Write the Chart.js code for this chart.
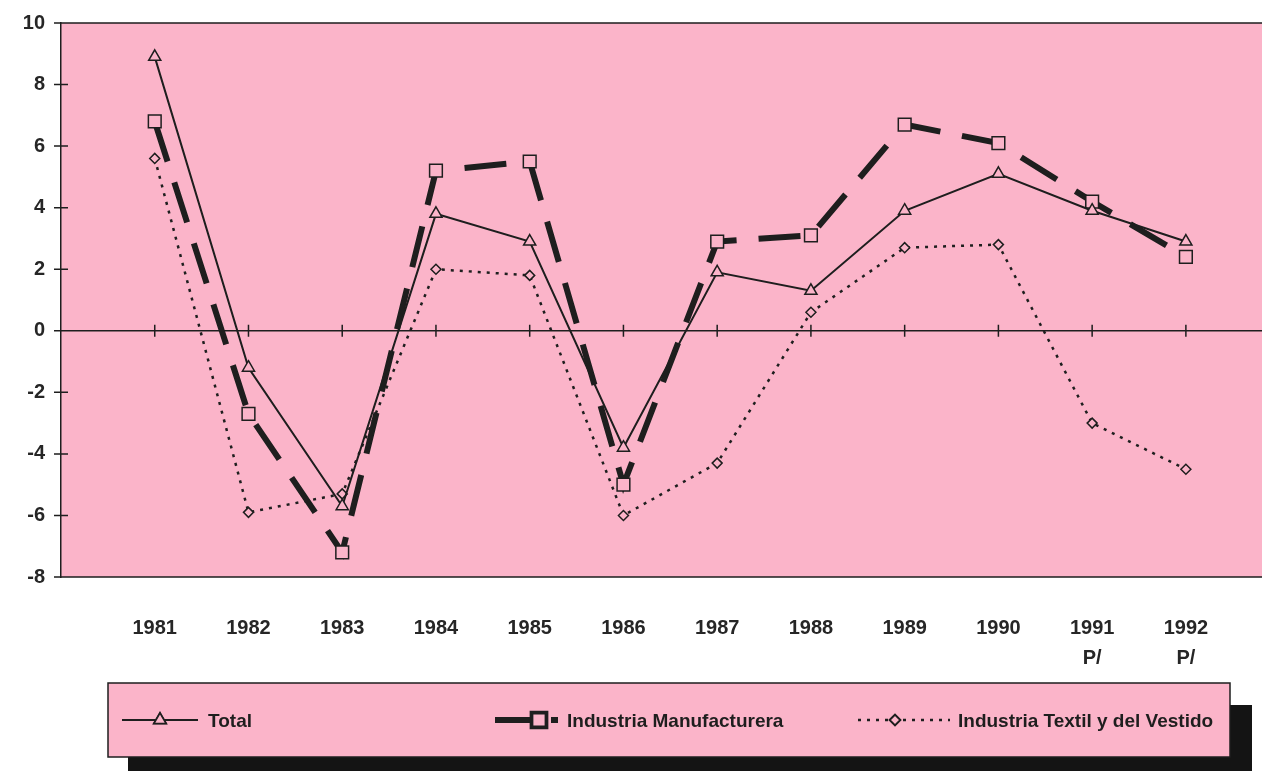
<!DOCTYPE html>
<html>
<head>
<meta charset="utf-8">
<script src="https://cdn.jsdelivr.net/npm/chart.js@4.4.0/dist/chart.umd.min.js"></script>
<style>
  html, body { margin: 0; padding: 0; background: #fff; }
  #wrap { width: 1262px; height: 771px; }
</style>
</head>
<body>
<div id="wrap"><canvas id="myChart" width="1262" height="771"></canvas></div>
<script>
// data
var years = [1981, 1982, 1983, 1984, 1985, 1986, 1987, 1988, 1989, 1990, 1991, 1992];
var yearLabels = ["1981", "1982", "1983", "1984", "1985", "1986", "1987", "1988", "1989", "1990", ["1991", "P/"], ["1992", "P/"]];
var total = [8.9, -1.2, -5.7, 3.8, 2.9, -3.8, 1.9, 1.3, 3.9, 5.1, 3.9, 2.9];
var manufacturera = [6.8, -2.7, -7.2, 5.2, 5.5, -5.0, 2.9, 3.1, 6.7, 6.1, 4.2, 2.4];
var textil = [5.6, -5.9, -5.3, 2.0, 1.8, -6.0, -4.3, 0.6, 2.7, 2.8, -3.0, -4.5];
var yTicks = [-8, -6, -4, -2, 0, 2, 4, 6, 8, 10];

var pink = "#fbb4c9";
var ink = "#1e1e1e";
var fontFam = "'Liberation Sans', Arial, sans-serif";

function pts(vals) {
  return vals.map(function (v, i) { return { x: years[i], y: v }; });
}

// pink plot area (runs to the page edge), frame lines, zero line with year ticks
var backPlugin = {
  id: "backPlugin",
  beforeDraw: function (chart) {
    var a = chart.chartArea, ctx = chart.ctx;
    ctx.save();
    ctx.fillStyle = pink;
    ctx.fillRect(a.left, a.top, chart.width - a.left, a.bottom - a.top);
    ctx.restore();
  },
  beforeDatasetsDraw: function (chart) {
    var a = chart.chartArea, ctx = chart.ctx;
    var xs = chart.scales.x, ys = chart.scales.y;
    var right = chart.width;
    ctx.save();
    ctx.strokeStyle = ink;
    ctx.lineWidth = 1.5;
    ctx.beginPath();
    ctx.moveTo(a.left, a.top);
    ctx.lineTo(right, a.top);
    ctx.moveTo(a.left, a.bottom);
    ctx.lineTo(right, a.bottom);
    var y0 = ys.getPixelForValue(0);
    ctx.moveTo(a.left, y0);
    ctx.lineTo(right, y0);
    years.forEach(function (yr) {
      var px = xs.getPixelForValue(yr);
      ctx.moveTo(px, y0 - 6);
      ctx.lineTo(px, y0 + 6);
    });
    yTicks.forEach(function (t) {
      var py = ys.getPixelForValue(t);
      ctx.moveTo(a.left - 7, py);
      ctx.lineTo(a.left + 7, py);
    });
    ctx.stroke();
    ctx.restore();
  }
};

// boxed legend with dark drop shadow
var legendPlugin = {
  id: "legendPlugin",
  afterDraw: function (chart) {
    var ctx = chart.ctx;
    var ds = chart.data.datasets;
    ctx.save();
    ctx.fillStyle = "#141414";
    ctx.fillRect(128, 705, 1124, 70);
    ctx.fillStyle = pink;
    ctx.fillRect(108, 683, 1122, 74);
    ctx.strokeStyle = ink;
    ctx.lineWidth = 1.5;
    ctx.strokeRect(108, 683, 1122, 74);

    var ly = 720;
    var items = [
      { x1: 122, x2: 198, mark: 160, tx: 208 },
      { x1: 495, x2: 535, mark: 539, tx: 567, extra: [551, 558] },
      { x1: 858, x2: 950, mark: 895, tx: 958 }
    ];
    items.forEach(function (it, i) {
      var d = ds[i];
      ctx.strokeStyle = ink;
      ctx.lineWidth = d.borderWidth;
      ctx.setLineDash(i === 2 ? d.borderDash : []);
      ctx.beginPath();
      ctx.moveTo(it.x1, ly);
      ctx.lineTo(it.x2, ly);
      if (it.extra) {
        ctx.moveTo(it.extra[0], ly);
        ctx.lineTo(it.extra[1], ly);
      }
      ctx.stroke();
      ctx.setLineDash([]);
      Chart.helpers.drawPoint(ctx, {
        pointStyle: d.pointStyle,
        radius: d.pointRadius,
        borderWidth: d.pointBorderWidth
      }, it.mark, ly);
      ctx.fillStyle = pink;
      ctx.strokeStyle = ink;
      ctx.lineWidth = d.pointBorderWidth;
      ctx.fill();
      ctx.stroke();
      ctx.fillStyle = ink;
      ctx.font = "bold 19px " + fontFam;
      ctx.textBaseline = "middle";
      ctx.fillText(d.label, it.tx, ly + 2);
    });
    ctx.restore();
  }
};

var ctx = document.getElementById("myChart").getContext("2d");
var myLineChart = new Chart(ctx, {
  type: "line",
  data: {
    datasets: [
      {
        label: "Total",
        data: pts(total),
        borderColor: ink,
        borderWidth: 2,
        pointStyle: "triangle",
        pointRadius: 7,
        pointBorderWidth: 1.5,
        pointBackgroundColor: pink,
        pointBorderColor: ink,
        order: 1
      },
      {
        label: "Industria Manufacturera",
        data: pts(manufacturera),
        borderColor: ink,
        borderWidth: 6,
        borderDash: [42, 22],
        pointStyle: "rect",
        pointRadius: 9,
        pointBorderWidth: 1.5,
        pointBackgroundColor: pink,
        pointBorderColor: ink,
        order: 2
      },
      {
        label: "Industria Textil y del Vestido",
        data: pts(textil),
        borderColor: ink,
        borderWidth: 2.5,
        borderDash: [3, 6],
        pointStyle: "rectRot",
        pointRadius: 5,
        pointBorderWidth: 1.5,
        pointBackgroundColor: pink,
        pointBorderColor: ink,
        order: 3
      }
    ]
  },
  options: {
    responsive: false,
    animation: false,
    layout: { padding: { top: 23, right: 0, bottom: 104, left: 0 } },
    plugins: {
      legend: { display: false },
      tooltip: { enabled: false }
    },
    elements: { line: { tension: 0, fill: false } },
    scales: {
      x: {
        type: "linear",
        min: 1980,
        max: 1992.7,
        afterBuildTicks: function (scale) {
          scale.ticks = years.map(function (v) { return { value: v }; });
        },
        afterFit: function (scale) {
          scale.height = 90;
          scale.paddingLeft = 0;
          scale.paddingRight = 0;
        },
        grid: { display: false },
        border: { display: false },
        ticks: {
          autoSkip: false,
          maxRotation: 0,
          padding: 28,
          color: "#262626",
          font: { family: fontFam, size: 20, weight: "bold", lineHeight: 1.5 },
          callback: function (value) {
            return yearLabels[years.indexOf(value)];
          }
        }
      },
      y: {
        min: -8,
        max: 10,
        afterFit: function (scale) {
          scale.width = 61;
          scale.paddingTop = 0;
          scale.paddingBottom = 0;
        },
        grid: { display: true, drawOnChartArea: false, drawTicks: false },
        border: { display: true, color: ink, width: 1.5 },
        ticks: {
          stepSize: 2,
          padding: 16,
          color: "#262626",
          font: { family: fontFam, size: 20, weight: "bold" }
        }
      }
    }
  },
  plugins: [backPlugin, legendPlugin]
});
</script>
</body>
</html>
